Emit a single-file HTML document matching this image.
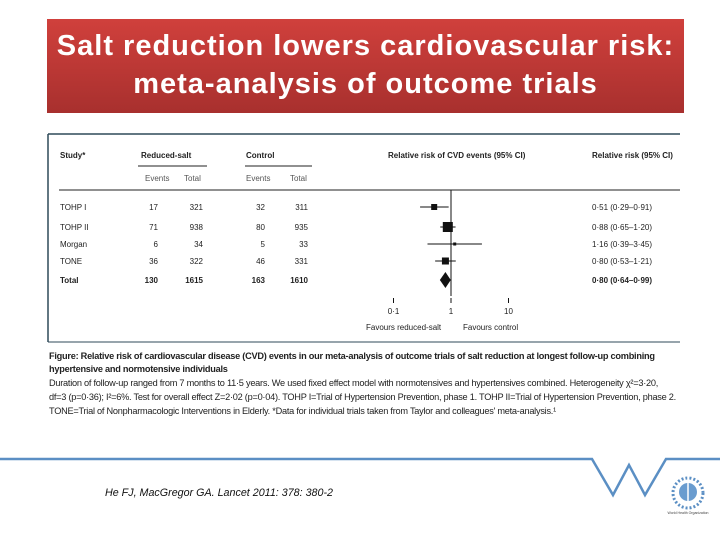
<!DOCTYPE html>
<html><head><meta charset="utf-8"><style>
body{margin:0;width:720px;height:540px;background:#fff;position:relative;overflow:hidden;font-family:"Liberation Sans",sans-serif}
#title{position:absolute;left:47px;top:19px;width:637px;height:94px;background:linear-gradient(#d0403c,#a8302e);color:#fff;font-weight:bold;font-size:29px;letter-spacing:1px;line-height:38px;text-align:center;padding-top:8px;box-sizing:border-box;white-space:nowrap}
#fig{position:absolute;left:0;top:0}
.cap{position:absolute;left:49px;font-size:9.2px;color:#222;white-space:nowrap;letter-spacing:-0.25px}
</style></head><body>
<div id="title">Salt reduction lowers cardiovascular risk:<br>meta-analysis of outcome trials</div>
<svg id="fig" width="720" height="540" font-family="Liberation Sans, sans-serif">
<line x1="48" y1="134" x2="680" y2="134" stroke="#2f4a58" stroke-width="1.5"/>
<line x1="48" y1="134" x2="48" y2="342" stroke="#2f4a58" stroke-width="1.5"/>
<line x1="48" y1="342" x2="680" y2="342" stroke="#2f4a58" stroke-width="1"/>
<g font-size="8" fill="#222">
<text x="60" y="158" font-weight="bold">Study*</text>
<text x="141" y="158" font-weight="bold">Reduced-salt</text>
<text x="246" y="158" font-weight="bold">Control</text>
<text x="388" y="158" font-weight="bold">Relative risk of CVD events (95% CI)</text>
<text x="592" y="158" font-weight="bold">Relative risk (95% CI)</text>
<text x="145" y="181" fill="#555">Events</text><text x="184" y="181" fill="#555">Total</text>
<text x="246" y="181" fill="#555">Events</text><text x="290" y="181" fill="#555">Total</text>
</g>
<line x1="138" y1="166" x2="207" y2="166" stroke="#222"/>
<line x1="245" y1="166" x2="312" y2="166" stroke="#222"/>
<line x1="59" y1="190" x2="680" y2="190" stroke="#222"/>
<g id="rows"></g>
<line x1="451" y1="190" x2="451" y2="296" stroke="#111"/>
<g id="axis" font-size="8" fill="#222"></g>
<text x="366" y="330" font-size="8" fill="#222">Favours reduced-salt</text>
<text x="463" y="330" font-size="8" fill="#222">Favours control</text>
<polyline points="0,459 592,459 613,495 629,465 645,495 666,459 720,459" fill="none" stroke="#5b8fc4" stroke-width="2.5"/>
<g>
<circle cx="688" cy="493" r="15" fill="none" stroke="#5b8fc4" stroke-width="3" stroke-dasharray="2 2"/>
<circle cx="688" cy="492" r="9" fill="#6a9ccf"/>
<line x1="688" y1="476" x2="688" y2="506" stroke="#fff" stroke-width="1.5"/>
<text x="688" y="514" font-size="3.5" text-anchor="middle" fill="#444">World Health Organization</text>
</g>
<text x="105" y="496" font-size="11" font-style="italic" fill="#111" textLength="228" lengthAdjust="spacingAndGlyphs">He FJ, MacGregor GA. Lancet 2011: 378: 380-2</text>
</svg>
<div class="cap" style="top:351px;font-weight:bold">Figure: Relative risk of cardiovascular disease (CVD) events in our meta-analysis of outcome trials of salt reduction at longest follow-up combining</div>
<div class="cap" style="top:364px;font-weight:bold">hypertensive and normotensive individuals</div>
<div class="cap" style="top:378px">Duration of follow-up ranged from 7 months to 11·5 years. We used fixed effect model with normotensives and hypertensives combined. Heterogeneity χ²=3·20,</div>
<div class="cap" style="top:392px">df=3 (p=0·36); I²=6%. Test for overall effect Z=2·02 (p=0·04). TOHP I=Trial of Hypertension Prevention, phase 1. TOHP II=Trial of Hypertension Prevention, phase 2.</div>
<div class="cap" style="top:406px">TONE=Trial of Nonpharmacologic Interventions in Elderly. *Data for individual trials taken from Taylor and colleagues' meta-analysis.¹</div>
<script>
const studies=["TOHP I","TOHP II","Morgan","TONE","Total"];
const rsEvents=[17,71,6,36,130];
const rsTotal=[321,938,34,322,1615];
const ctEvents=[32,80,5,46,163];
const ctTotal=[311,935,33,331,1610];
const rr=[0.51,0.88,1.16,0.80,0.80];
const lo=[0.29,0.65,0.39,0.53,0.64];
const hi=[0.91,1.20,3.45,1.21,0.99];
const weight=[6,10,3,7,0];
const ticks=[0.1,1,10];
const tickLabels=["0·1","1","10"];
const NS="http://www.w3.org/2000/svg";
const xs=v=>451+57.5*Math.log10(v);
const ys=i=>[207,227,244,261,280][i];
const fmt=v=>v.toFixed(2).replace('.','·');
function mk(t,a,p){const e=document.createElementNS(NS,t);for(const k in a)e.setAttribute(k,a[k]);p.appendChild(e);return e;}
const g=document.getElementById('rows');
studies.forEach((s,i)=>{
 const y=ys(i);const tot=i===studies.length-1;
 const row=mk('g',{'font-size':8,fill:'#222','font-weight':tot?'bold':'normal'},g);
 
 
 mk('text',{x:60,y:y+3},row).textContent=s;
 [[rsEvents,158],[rsTotal,203],[ctEvents,265],[ctTotal,308]].forEach(([arr,x])=>{mk('text',{x:x,y:y+3,'text-anchor':'end'},row).textContent=arr[i];});
 mk('text',{x:592,y:y+3},row).textContent=fmt(rr[i])+" ("+fmt(lo[i])+"–"+fmt(hi[i])+")";
 if(!tot){
  mk('line',{x1:xs(lo[i]),x2:xs(hi[i]),y1:y,y2:y,stroke:'#111'},g);
  const w=weight[i];
  const sq=mk('rect',{x:xs(rr[i])-w/2,y:y-w/2,width:w,height:w,fill:'#111'},g);
  
  
 }else{
  const d=mk('polygon',{points:`${xs(lo[i])},${y} ${xs(rr[i])},${y-8} ${xs(hi[i])},${y} ${xs(rr[i])},${y+8}`,fill:'#111'},g);
  
  
 }
});
const ax=document.getElementById('axis');
ticks.forEach((t,i)=>{
 mk('line',{x1:xs(t),x2:xs(t),y1:298,y2:303,stroke:'#111'},ax);
 const l=mk('text',{x:xs(t),y:314,'text-anchor':'middle'},ax);l.textContent=tickLabels[i];
 
 
});
</script>
</body></html>
